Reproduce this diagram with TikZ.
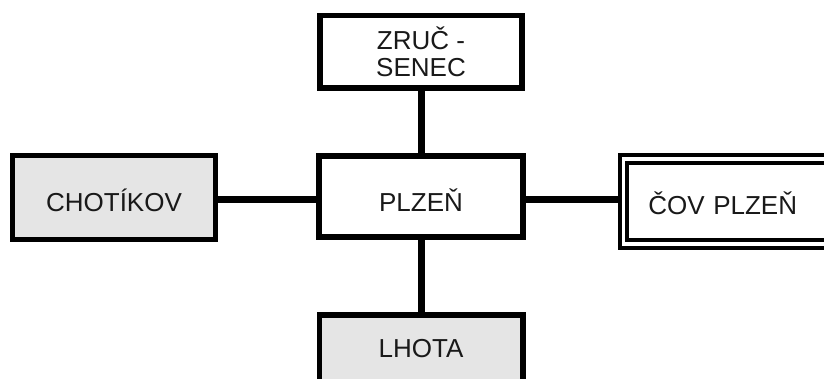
\documentclass[tikz,border=0pt]{standalone}
\usepackage{fontspec}
\setmainfont{Liberation Sans}
\usetikzlibrary{backgrounds}
\begin{document}
\begin{tikzpicture}[x=1pt,y=-1pt,
  every node/.style={font=\fontsize{26}{27}\selectfont, text=black!90, inner sep=0pt},
  box/.style={draw=black, line width=5.5pt, fill=white, rectangle},
  shaded/.style={box, fill=black!10},
  twin/.style={draw=black, line width=4pt, double=white, double distance=3.5pt, rectangle, fill=white},
  link/.style={draw=black, line width=7pt}]
\useasboundingbox (0,0) rectangle (824,379);
\clip (0,0) rectangle (824,379);

% stations
\node[box, minimum width=202pt, minimum height=72.5pt, align=center] (zruc) at (421,51.75) {ZRUČ -\\SENEC};
\node[box, minimum width=204pt, minimum height=81pt, text height=31pt, text depth=0pt] (plzen) at (421,196.5) {PLZEŇ};
\node[shaded, minimum width=203pt, minimum height=84pt, text height=29pt, text depth=0pt] (chot) at (114,197.5) {CHOTÍKOV};
\node[shaded, minimum width=203.5pt, minimum height=84pt, text height=10pt, text depth=10pt] (lhota) at (421,357) {LHOTA};
\node[twin, minimum width=211.5pt, minimum height=84.75pt, text height=26pt, text depth=0pt, text width=196pt, align=left] (cov) at (729.25,201.4) {\hspace*{17pt}ČOV PLZEŇ};

% connecting lines, kept behind the boxes
\begin{scope}[on background layer]
\draw[link] (zruc.south) -- (plzen.north);
\draw[link] (plzen.south) -- (lhota.north);
\draw[link] (chot.east |- 0,200) -- (plzen.west |- 0,200);
\draw[link] (plzen.east |- 0,200) -- (cov.west |- 0,200);
\end{scope}
\end{tikzpicture}
\end{document}
